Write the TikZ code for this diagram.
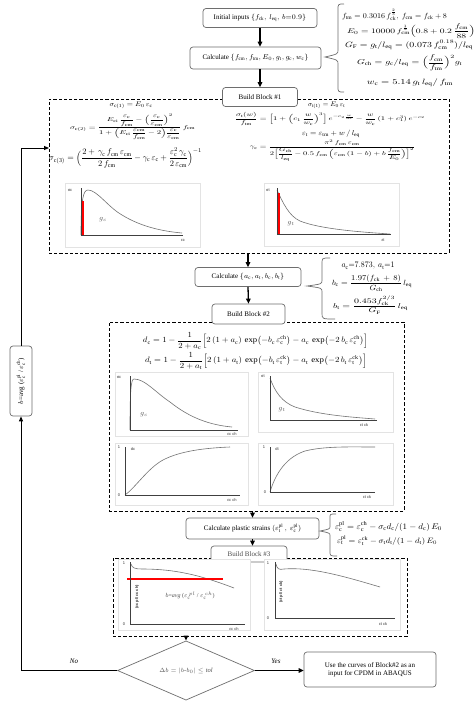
\documentclass[tikz,border=0pt]{standalone}
\usepackage{amsmath}
\usepackage{graphicx}
\usepackage{fontspec}
\setmainfont{Liberation Serif}
\newfontfamily\plotfont{Liberation Sans}
\usetikzlibrary{shapes.geometric,arrows.meta}
\definecolor{boxgray}{RGB}{110,110,110}
\newcommand{\fw}[3]{\resizebox*{#1pt}{#2pt}{$\displaystyle #3$}}
\newcommand{\rs}[1]{\mathrm{#1}}
\begin{document}
\begin{tikzpicture}[x=1pt,y=-1pt,
  box/.style={draw=boxgray, line width=0.7pt, rounded corners=3pt, fill=white, inner sep=0pt, align=center, font=\fontsize{7}{8}\selectfont},
  blk/.style={draw=black, line width=1pt, dash pattern=on 3.2pt off 2pt, inner sep=0pt},
  arr/.style={-{Triangle[length=5pt,width=4.5pt]}, line width=1.3pt},
  arrthin/.style={-{Triangle[length=5pt,width=4pt]}, line width=0.9pt},
  brc/.style={draw=boxgray, line width=0.7pt},
  frm/.style={draw=gray!22, line width=0.6pt, fill=white},
  axis/.style={draw=black!75, line width=1pt},
  crv/.style={draw=gray!90!black, line width=0.6pt},
  redl/.style={draw=red, line width=1.6pt},
  lbl/.style={font=\plotfont\fontsize{4}{4}\selectfont, inner sep=0.5pt, text=black!80},
  rlbl/.style={font=\plotfont\bfseries\fontsize{4}{4}\selectfont, inner sep=0.5pt, rotate=90, text=black!80},
  gl/.style={inner sep=0pt, text=gray!70!black, font=\fontsize{7}{7}\selectfont},
  eq/.style={inner sep=0pt}]
\useasboundingbox (0,0) rectangle (476,702);
\fill[white] (0,0) rectangle (476,702);

% ---------- top boxes ----------
\node[box, minimum width=114, minimum height=19] (init) at (260,18) {Initial inputs $\{f_{\rs{ck}},\, l_{\rs{eq}},\, b{=}0.9\}$};
\node[box, minimum width=131, minimum height=22] (calc1) at (255.5,58) {Calculate $\{f_{\rs{cm}}, f_{\rs{tm}}, E_0, g_{\rs t}, g_{\rs c}, w_{\rs c}\}$};
\draw[arr] (init.south) -- (init.south |- calc1.north);

% brace 1 and formulas
\draw[brc] (344,4) .. controls (338,4) .. (338,10) -- (338,50) .. controls (338,54) .. (325,57) .. controls (338,60) .. (338,64) -- (338,86) .. controls (338,92) .. (344,92);
\node[eq] (ftm) at (394.5,15) {\fw{105}{11}{f_{\rs{tm}} = 0.3016\, f_{\rs{ck}}^{\frac{2}{3}},\ f_{\rs{cm}} = f_{\rs{ck}} + 8}};
\node[eq] (e0) at (411,31) {\fw{128}{14}{E_0 = 10000\, f_{\rs{cm}}^{\frac13}\Bigl(0.8+0.2\,\frac{f_{\rs{cm}}}{88}\Bigr)}};
\node[eq] (gf) at (409,45) {\fw{128}{9}{G_{\rs F} = g_{\rs t}/l_{\rs{eq}} = (0.073\,f_{\rs{cm}}^{0.18})/l_{\rs{eq}}}};
\node[eq] (gch) at (409.5,63) {\fw{105}{16}{G_{\rs{ch}} = g_{\rs c}/l_{\rs{eq}} = \Bigl(\frac{f_{\rs{cm}}}{f_{\rs{tm}}}\Bigr)^{2} g_{\rs t}}};
\node[eq] (wc) at (410,83) {\fw{86}{8}{w_{\rs c} = 5.14\, g_{\rs t}\, l_{\rs{eq}}/\,f_{\rs{tm}}}};

% ---------- block 1 ----------
\node[blk, minimum width=400, minimum height=154] (blk1) at (249,176) {};
\node[box, minimum width=75, minimum height=19] (bb1) at (260,97) {Build Block \#1};
\draw[arr] (calc1.south -| init.south) -- (init.south |- bb1.north);

\node[eq] at (131,105) {\fw{43}{7}{\sigma_{\rs{c(1)}} = E_0\,\varepsilon_{\rs c}}};
\node[eq] at (132.5,127) {\fw{125}{26}{\sigma_{\rs{c(2)}} = \frac{E_{\rs{ci}}\,\dfrac{\varepsilon_{\rs c}}{f_{\rs{cm}}} - \Bigl(\dfrac{\varepsilon_{\rs c}}{\varepsilon_{\rs{cm}}}\Bigr)^{2}}{1+\Bigl(E_{\rs{ci}}\,\dfrac{\varepsilon_{\rs{cm}}}{f_{\rs{cm}}}-2\Bigr)\dfrac{\varepsilon_{\rs c}}{\varepsilon_{\rs{cm}}}}\,f_{\rs{cm}}}};
\node[eq] at (125.5,158) {\fw{153}{20}{\sigma_{\rs{c(3)}} = \Bigl(\frac{2+\,\gamma_{\rs c}\,f_{\rs{cm}}\,\varepsilon_{\rs{cm}}}{2\,f_{\rs{cm}}} - \gamma_{\rs c}\,\varepsilon_{\rs c} + \frac{\varepsilon_{\rs c}^{2}\,\gamma_{\rs c}}{2\,\varepsilon_{\rs{cm}}}\Bigr)^{-1}}};
\node[eq] at (326.5,105) {\fw{37}{7}{\sigma_{\rs{t(1)}} = E_0\,\varepsilon_{\rs t}}};
\node[eq] at (330,119) {\fw{190}{13}{\frac{\sigma_{\rs t}(w)}{f_{\rs{tm}}} = \Bigl[1+\Bigl(c_1\,\frac{w}{w_{\rs c}}\Bigr)^{3}\Bigr]\,e^{-c_2\frac{w}{w_{\rs c}}} - \frac{w}{w_{\rs c}}\,(1+c_1^{3})\,e^{-c_2}}};
\node[eq] at (331,133.5) {\fw{58}{7.5}{\varepsilon_{\rs t} = \varepsilon_{\rs{tm}} + w\,/\,l_{\rs{eq}}}};
\node[eq] at (332.5,150.5) {\fw{165}{21}{\gamma_{\rs c} = \frac{\pi^{2}\,f_{\rs{cm}}\,\varepsilon_{\rs{cm}}}{2\Bigl[\dfrac{G_{\rs{ch}}}{l_{\rs{eq}}} - 0.5\,f_{\rs{cm}}\,\Bigl(\varepsilon_{\rs{cm}}\,(1-b) + b\,\dfrac{f_{\rs{cm}}}{E_0}\Bigr)\Bigr]^{2}}}};

% plot 1 left
\draw[frm] (65,183) rectangle (200,247);
\draw[crv] (81,235) .. controls (81,200) and (83,190) .. (88,190) .. controls (97,190) and (108,207) .. (122,215) .. controls (140,226) and (160,231) .. (182,233);
\draw[redl] (83,201) -- (83,235);
\draw[axis] (81,188) -- (81,235) -- (183,235);
\node[lbl] at (70,190) {σc};
\node[lbl] at (183,240) {εc};
\node[gl] at (103,220) {$g_{\scriptscriptstyle c}$};
% plot 1 right
\draw[frm] (264,183) rectangle (399,246);
\draw[crv] (277,190) .. controls (283,203) and (289,216) .. (300,221) .. controls (320,229) and (360,232) .. (390,234);
\draw[redl] (279,193) -- (279,234);
\draw[axis] (277,188) -- (277,234) -- (391,234);
\node[lbl] at (268,190) {σt};
\node[lbl] at (383,240) {εt};
\node[gl] at (291,224) {$g_{\scriptscriptstyle t}$};

% ---------- calc 2 ----------
\node[box, minimum width=106, minimum height=19] (calc2) at (248,277) {Calculate $\{a_{\rs c}, a_{\rs t}, b_{\rs c}, b_{\rs t}\}$};
\draw[arr] (calc2.north |- blk1.south) -- (calc2.north);
\draw[brc] (330,258) .. controls (322,258) .. (322,264) -- (322,280) .. controls (322,284) .. (307,286) .. controls (322,288) .. (322,292) -- (322,313) .. controls (322,319) .. (335,319);
\node[eq] at (368,266) {\fw{53}{7}{a_{\rs c}{=}7.873,\ a_{\rs t}{=}1}};
\node[eq] at (372,283) {\fw{80}{17}{b_{\rs c} = \frac{1.97(f_{\rs{ck}}\,+\,8)}{G_{\rs{ch}}}\,l_{\rs{eq}}}};
\node[eq] at (370.5,305) {\fw{75}{18}{b_{\rs t} = \frac{0.453 f_{\rs{ck}}^{2/3}}{G_{\rs F}}\,l_{\rs{eq}}}};

% ---------- block 2 ----------
\node[blk, minimum width=295, minimum height=189] (blk2) at (256.5,416.5) {};
\node[box, minimum width=73, minimum height=20] (bb2) at (248.5,314) {Build Block \#2};
\draw[arr] (calc2.south) -- (bb2.north);
\node[eq] at (255.5,341) {\fw{225}{17}{d_{\rs c} = 1 - \frac{1}{2+a_{\rs c}}\Bigl[2\,(1+a_{\rs c})\,\exp\bigl(-b_{\rs c}\,\varepsilon_{\rs c}^{\rs{ch}}\bigr) - a_{\rs c}\,\exp\bigl(-2\,b_{\rs c}\,\varepsilon_{\rs c}^{\rs{ch}}\bigr)\Bigr]}};
\node[eq] at (256,361) {\fw{222}{17}{d_{\rs t} = 1 - \frac{1}{2+a_{\rs t}}\Bigl[2\,(1+a_{\rs t})\,\exp\bigl(-b_{\rs t}\,\varepsilon_{\rs t}^{\rs{ck}}\bigr) - a_{\rs t}\,\exp\bigl(-2\,b_{\rs t}\,\varepsilon_{\rs t}^{\rs{ck}}\bigr)\Bigr]}};

% plot 2 top-left
\draw[frm] (115,372) rectangle (248,436);
\draw[crv] (130,430) .. controls (130,390) and (131,379) .. (134,379) .. controls (145,379) and (155,392) .. (170,402) .. controls (190,418) and (210,425) .. (232,427);
\draw[axis] (130,376) -- (130,430) -- (238,430);
\node[lbl] at (119,377) {σc};
\node[lbl] at (232,434) {εc ch};
\node[gl] at (144,415) {$g_{\scriptscriptstyle c}$};
% plot 2 top-right
\draw[frm] (258,372) rectangle (393,432);
\draw[crv] (270,378) .. controls (275,392) and (282,402) .. (295,407) .. controls (320,415) and (350,417) .. (375,419);
\draw[axis] (270,376) -- (270,420) -- (377,420);
\node[lbl] at (263,376) {σt};
\node[lbl] at (364,425) {εt ck};
\node[gl] at (282,410) {$g_{\scriptscriptstyle t}$};
% plot 2 bottom-left
\draw[frm] (115,443) rectangle (248,505);
\draw[crv] (125,495) .. controls (135,488) and (148,468) .. (163,460) .. controls (180,451) and (205,448) .. (230,447);
\draw[axis] (125,447) -- (125,495) -- (240,495);
\node[lbl] at (119,447) {1};
\node[lbl] at (119,495) {0};
\node[lbl] at (133,449) {dc};
\node[lbl] at (232,500) {εc ch};
% plot 2 bottom-right
\draw[frm] (258,443) rectangle (393,505);
\draw[crv] (270,492) .. controls (276,472) and (287,457) .. (305,451) .. controls (325,446) and (350,447) .. (375,447);
\draw[axis] (270,447) -- (270,492) -- (375,492);
\node[lbl] at (264,447) {1};
\node[lbl] at (265,492) {0};
\node[lbl] at (277,449) {dt};
\node[lbl] at (367,497) {εt ck};

% ---------- plastic strains ----------
\node[box, minimum width=133, minimum height=21] (plast) at (252.5,528.5) {Calculate plastic strains $(\varepsilon_{\rs t}^{\rs{pl}}\,,\,\varepsilon_{\rs c}^{\rs{pl}})$};
\draw[arr] (plast.north |- blk2.south) -- (plast.north);
\draw[brc] (336,514) .. controls (330,514) .. (330,518) -- (330,526) .. controls (330,529) .. (320,531) .. controls (330,533) .. (330,536) -- (330,551) .. controls (330,556) .. (337,556);
\node[eq] at (388.5,526.5) {\fw{107}{9.5}{\varepsilon_{\rs c}^{\rs{pl}} = \varepsilon_{\rs c}^{\rs{ch}} - \sigma_{\rs c} d_{\rs c}/(1-d_{\rs c})\,E_0}};
\node[eq] at (387,540.5) {\fw{100}{9.5}{\varepsilon_{\rs t}^{\rs{pl}} = \varepsilon_{\rs t}^{\rs{ck}} - \sigma_{\rs t} d_{\rs t}/(1-d_{\rs t})\,E_0}};

% ---------- block 3 ----------
\node[blk, minimum width=294, minimum height=78] (blk3) at (260,597) {};
\node[box, minimum width=76, minimum height=16, text=gray!60!black] (bb3) at (249,554) {Build Block \#3};
\draw[arr] (plast.south) -- (plast.south |- bb3.north);
% plot 3 left
\draw[frm] (118,559) rectangle (250,630);
\draw[crv] (131,564) .. controls (132,568) and (135,569) .. (142,569) .. controls (175,569) and (200,575) .. (234,588);
\draw[redl] (127,579) -- (223,579);
\draw[axis] (130,562) -- (130,624) -- (245,624);
\node[lbl] at (124,563) {1};
\node[lbl] at (124,624) {0};
\node[lbl] at (234,629) {εc ch};
\node[rlbl] at (137,597) {(εc pl/ εc ch)};
\node[inner sep=0pt, text=gray!65!black, font=\fontsize{6}{6}\selectfont] at (190,596) {$b$=\textit{avg} ($\varepsilon_{\rs c}^{\,pl}$ / $\varepsilon_{\rs c}^{\,ch}$)};
% plot 3 right
\draw[frm] (264,559) rectangle (400,630);
\draw[crv] (276,564) .. controls (277,569) and (279,570) .. (284,569) .. controls (310,567) and (340,575) .. (380,587);
\draw[axis] (275,562) -- (275,618) -- (395,618);
\node[lbl] at (268,563) {1};
\node[lbl] at (268,618) {0};
\node[lbl] at (383,624) {εt ck};
\node[rlbl] at (281,592) {(εt pl/ εt ck)};

% ---------- decision ----------
\node[diamond, draw=boxgray, line width=0.7pt, minimum width=137, minimum height=53, inner sep=0pt, text=gray!65!black, font=\fontsize{6.5}{7}\selectfont] (dia) at (186,670.5) {$\Delta b = |b\text{-}b_0| \leq \mathit{tol}$};
\draw[arr] (dia.north |- blk3.south) -- (dia.north);
\node[box, minimum width=132, minimum height=35] (yes) at (370,669.5) {Use the curves of Block\#2 as an\\input for CPDM in ABAQUS};
\draw[arr] (dia.east) -- (dia.east -| yes.west);
\node[inner sep=0pt, font=\itshape\fontsize{7}{8}\selectfont] at (276,661) {Yes};
\node[inner sep=0pt, font=\itshape\fontsize{7}{8}\selectfont] at (74,661) {No};

% ---------- feedback ----------
\node[box, rotate=90, minimum width=70, minimum height=22, font=\fontsize{7}{8}\selectfont] (fb) at (21,381) {$b$=avg ($\varepsilon_{\rs c}^{\rs{pl}}$ / $\varepsilon_{\rs c}^{\rs{ch}}$)};
\coordinate (fbin) at (49,148);
\draw[arrthin] (dia.west) -| (fb.west);
\draw[arrthin] (fb.east) |- (fbin);
\end{tikzpicture}
\end{document}
